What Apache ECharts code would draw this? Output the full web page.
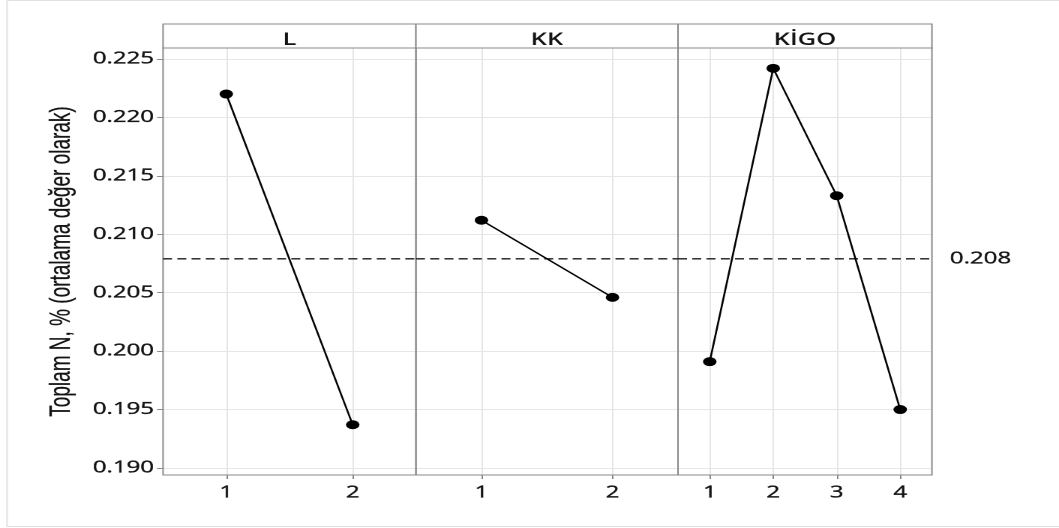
<!DOCTYPE html>
<html>
<head>
<meta charset="utf-8">
<script src="https://cdn.jsdelivr.net/npm/echarts@6/dist/echarts.min.js"></script>
<style>
html,body{margin:0;padding:0;background:#fff;overflow:hidden}
#wrap{width:1059px;height:528px;overflow:hidden;position:relative}
#c{width:706px;height:528px;transform:scaleX(1.5);transform-origin:0 0}
</style>
</head>
<body>
<div id="wrap"><div id="c"></div></div>
<script>
// ---- data ----
const panelNames = ['L', 'KK', 'KİGO'];
const levelsL = [1, 2];
const levelsKK = [1, 2];
const levelsKIGO = [1, 2, 3, 4];
const meansL = [0.2220, 0.1937];
const meansKK = [0.2112, 0.2046];
const meansKIGO = [0.1991, 0.2242, 0.2133, 0.1950];
const grandMean = 0.2079;
const grandMeanLabel = '0.208';
const yTicks = [0.190, 0.195, 0.200, 0.205, 0.210, 0.215, 0.220, 0.225];
const yTitle = 'Toplam N, % (ortalama değer olarak)';

// ---- layout (canvas is drawn at 2/3 width and stretched horizontally) ----
const FONT = 'Open Sans';
const panels = [
  { name: panelNames[0], levels: levelsL, means: meansL, left: 108.7, width: 168.6, xMin: 0.5, xMax: 2.5 },
  { name: panelNames[1], levels: levelsKK, means: meansKK, left: 277.3, width: 174.7, xMin: 0.5, xMax: 2.5 },
  { name: panelNames[2], levels: levelsKIGO, means: meansKIGO, left: 452.0, width: 169.3, xMin: 0.5, xMax: 4.5 }
];
const TOP = 48, HEIGHT = 427, STRIP_TOP = 24;
const Y_MIN = 0.18940, Y_MAX = 0.22594;
const borderColor = '#8a8a8a';
const gridColor = '#e6e6e6';
const textColor = '#141414';
const textBold = { textBorderColor: '#141414', textBorderWidth: 0.35 };

const grids = [], xAxes = [], yAxes = [], series = [], graphics = [];

graphics.push({
  type: 'rect', z: -10,
  shape: { x: 4.7, y: 0.5, width: 760, height: 526 },
  style: { fill: '#fff', stroke: '#e2e2e2', lineWidth: 1 }
});

panels.forEach((p, i) => {
  grids.push({
    left: p.left, top: TOP, width: p.width, height: HEIGHT,
    show: true, borderColor: borderColor, borderWidth: 1, backgroundColor: 'transparent', z: 5
  });
  xAxes.push({
    type: 'value', gridIndex: i, min: p.xMin, max: p.xMax,
    axisLine: { show: false },
    axisTick: { show: true, length: 4, customValues: p.levels, lineStyle: { color: borderColor } },
    axisLabel: Object.assign({ show: true, customValues: p.levels, margin: 10, fontFamily: FONT, fontSize: 16, color: textColor,
                 formatter: v => String(v) }, textBold),
    splitLine: { show: true, lineStyle: { color: gridColor, width: 1 } }
  });
  yAxes.push({
    type: 'value', gridIndex: i, min: Y_MIN, max: Y_MAX,
    name: i === 0 ? yTitle : '',
    nameLocation: 'middle', nameGap: 58, nameRotate: 90,
    nameTextStyle: { fontFamily: 'Liberation Sans', fontSize: 19, color: textColor, textBorderColor: textColor, textBorderWidth: 0.2 },
    axisLine: { show: false },
    axisTick: { show: i === 0, length: 4, customValues: yTicks, lineStyle: { color: borderColor } },
    axisLabel: Object.assign({ show: i === 0, customValues: yTicks, margin: 6, fontFamily: FONT, fontSize: 16, color: textColor,
                 formatter: v => v.toFixed(3) }, textBold),
    splitLine: { show: true, lineStyle: { color: gridColor, width: 1 } }
  });
  // grand mean reference line across the panel
  series.push({
    type: 'line', xAxisIndex: i, yAxisIndex: i, z: 8,
    data: [[p.xMin, grandMean], [p.xMax, grandMean]],
    symbol: 'none', silent: true, animation: false,
    lineStyle: { color: '#1a1a1a', type: [6, 3.5], width: 1.3 },
    endLabel: i === 2 ? Object.assign({ show: true, distance: 12, formatter: grandMeanLabel,
                          fontFamily: FONT, fontSize: 16, color: textColor }, textBold) : { show: false }
  });
  series.push({
    type: 'line', xAxisIndex: i, yAxisIndex: i, z: 10,
    data: p.levels.map((x, k) => [x, p.means[k]]),
    symbol: 'circle', symbolSize: 9,
    itemStyle: { color: '#000' },
    lineStyle: { color: '#000', width: 1.3 },
    animation: false
  });
  graphics.push({
    type: 'rect', z: 20,
    shape: { x: p.left, y: STRIP_TOP, width: p.width, height: TOP - STRIP_TOP },
    style: { fill: '#fff', stroke: borderColor, lineWidth: 1 }
  });
  graphics.push({
    type: 'text', z: 21,
    x: p.left + p.width / 2, y: 40,
    style: { text: p.name, fontFamily: FONT, fontSize: 17, fontWeight: 600, fill: textColor,
             align: 'center', verticalAlign: 'middle' }
  });
});

const chart = echarts.init(document.getElementById('c'), null, { renderer: 'canvas', devicePixelRatio: 2 });
chart.setOption({
  animation: false,
  backgroundColor: '#fff',
  grid: grids, xAxis: xAxes, yAxis: yAxes, series: series,
  graphic: graphics
});
</script>
</body>
</html>
